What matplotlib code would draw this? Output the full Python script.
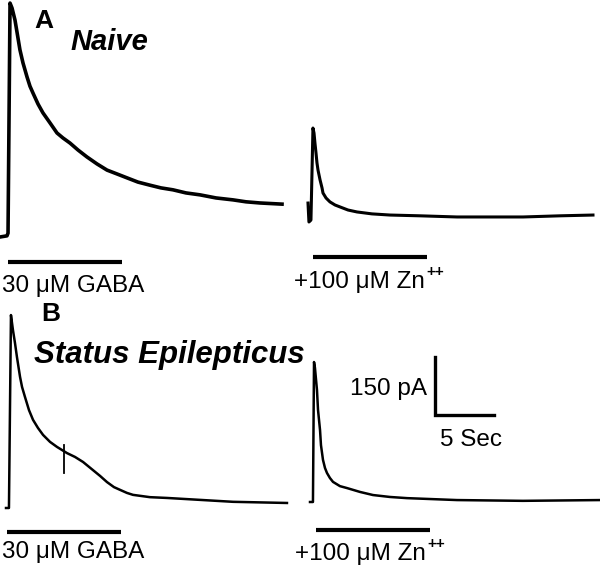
import numpy as np
import matplotlib
matplotlib.use("Agg")
import matplotlib.pyplot as plt

plt.rcParams['font.family'] = ['Liberation Sans', 'DejaVu Sans']

# traces: time from onset (s), current above baseline (pA)
naive_gaba_t = [0, 0.59, 0.68, 0.85, 1.02, 1.27, 1.44, 1.69, 1.95, 2.29, 2.54, 2.80,
                3.22, 3.64, 4.24, 4.83, 5.34, 5.93, 6.61, 7.37, 8.22, 9.07, 9.92,
                10.76, 11.69, 12.71, 13.64, 14.66, 15.76, 16.95, 18.31, 19.75,
                20.85, 22.03, 23.9]
naive_gaba_i = [0, 3, 10, 605, 592, 561, 530, 484, 450, 414, 390, 372,
                344, 321, 295, 269, 256, 243, 225, 207, 189, 173, 163,
                153, 142, 134, 127, 122, 114, 109, 101, 96,
                91, 88, 85]

naive_zn_t = [0, 0.08, 0.25, 0.42, 0.51, 0.59, 0.68, 0.76, 0.85, 1.02, 1.19, 1.27,
              1.53, 1.86, 2.29, 2.71, 3.39, 4.15, 5.42, 6.95, 9.49, 12.63, 18.22,
              21.36, 24.15]
naive_zn_i = [49, 0, 5, 243, 230, 204, 178, 153, 134, 109, 88, 75,
              62, 52, 44, 39, 31, 26, 21, 18, 16, 13, 13,
              16, 18]

se_gaba_t = [0, 0.25, 0.42, 0.59, 0.76, 0.93, 1.19, 1.36, 1.61, 1.95, 2.29, 2.71,
             3.14, 3.73, 4.32, 5.17, 5.85, 6.53, 7.37, 7.97, 8.56, 9.15, 9.66,
             10.25, 10.76, 12.20, 13.64, 16.44, 19.24, 23.81]
se_gaba_i = [0, 0, 499, 460, 427, 390, 339, 313, 287, 253, 228, 207,
             189, 171, 158, 142, 132, 119, 98, 83, 67, 54, 47,
             39, 34, 28, 26, 21, 16, 13]
se_artifact_t = 4.92
se_artifact_i = [90, 163]

se_zn_t = [0, 0.25, 0.34, 0.42, 0.59, 0.68, 0.85, 0.93, 1.10, 1.27, 1.44, 1.69,
           1.95, 2.54, 3.14, 4.24, 5.34, 6.78, 8.22, 12.46, 18.05, 24.58]
se_zn_i = [0, 0, 362, 347, 290, 238, 186, 147, 109, 88, 75, 62,
           52, 41, 36, 26, 18, 13, 10, 5, 3, 5]

drug_dur = 9.7      # s, length of application bars
scale_pa = 150
scale_s = 5

# layout: pixels per unit, and where each trace starts in the figure (px)
PX_S = 11.8
PX_PA = 58 / 150.
W, H = 600, 569


def X(px):
    return px / PX_S


def Y(py):
    return -py / PX_PA


fig = plt.figure(figsize=(6, 5.69), dpi=100)
ax = fig.add_axes([0, 0, 1, 1])
ax.set_xlim(0, X(W))
ax.set_ylim(Y(H), 0)
ax.axis('off')

traces = [
    (naive_gaba_t, naive_gaba_i, (0, 237), 2.6),
    (naive_zn_t, naive_zn_i, (308, 222), 2.2),
    (se_gaba_t, se_gaba_i, (6, 508), 1.8),
    (se_zn_t, se_zn_i, (310, 502), 1.8),
]
for t, i, (ox, oy), lw in traces:
    ax.plot(X(ox) + np.array(t), Y(oy) + np.array(i), color='black', lw=lw,
            solid_joinstyle='round')

# stimulus artifact in B
ax.plot([X(6) + se_artifact_t] * 2, Y(508) + np.array(se_artifact_i), color='black', lw=1.3)

# drug bars and labels
bars = [((8, 262), (2, 292), '30 μM GABA', False),
        ((313, 257), (294, 288), '+100 μM Zn', True),
        ((7, 532), (2, 558), '30 μM GABA', False),
        ((316, 530), (295, 560), '+100 μM Zn', True)]
for (bx, by), (lx, ly), lab, sup in bars:
    ax.plot([X(bx), X(bx) + drug_dur], [Y(by)] * 2, color='black', lw=3, solid_capstyle='butt')
    txt = ax.text(X(lx), Y(ly), lab, fontsize=17.5, va='baseline', ha='left')
    if sup:
        ax.annotate('++', xy=(1, 0.62), xycoords=txt, xytext=(1, 0),
                    textcoords='offset points', fontsize=11, fontweight='bold',
                    va='bottom', ha='left')

# scale bar
cx, cy = 435, 415
ax.plot([X(cx), X(cx), X(cx) + scale_s], [Y(cy) + scale_pa, Y(cy), Y(cy)],
        color='black', lw=2.4, solid_joinstyle='miter')
ax.text(X(cx - 8), Y(395), f'{scale_pa} pA', fontsize=17.5, ha='right', va='baseline')
ax.text(X(440), Y(446), f'{scale_s} Sec', fontsize=17.5, ha='left', va='baseline')

# panel labels
ax.text(X(34), Y(28), 'A', fontsize=19, fontweight='bold', va='baseline')
ax.text(X(70), Y(50), 'Naive', fontsize=21, fontweight='bold', style='italic', va='baseline')
ax.text(X(41), Y(321), 'B', fontsize=19, fontweight='bold', va='baseline')
ax.text(X(34), Y(363), 'Status Epilepticus', fontsize=22.5, fontweight='bold', style='italic',
        va='baseline')

fig.savefig('out.png', dpi=100)
